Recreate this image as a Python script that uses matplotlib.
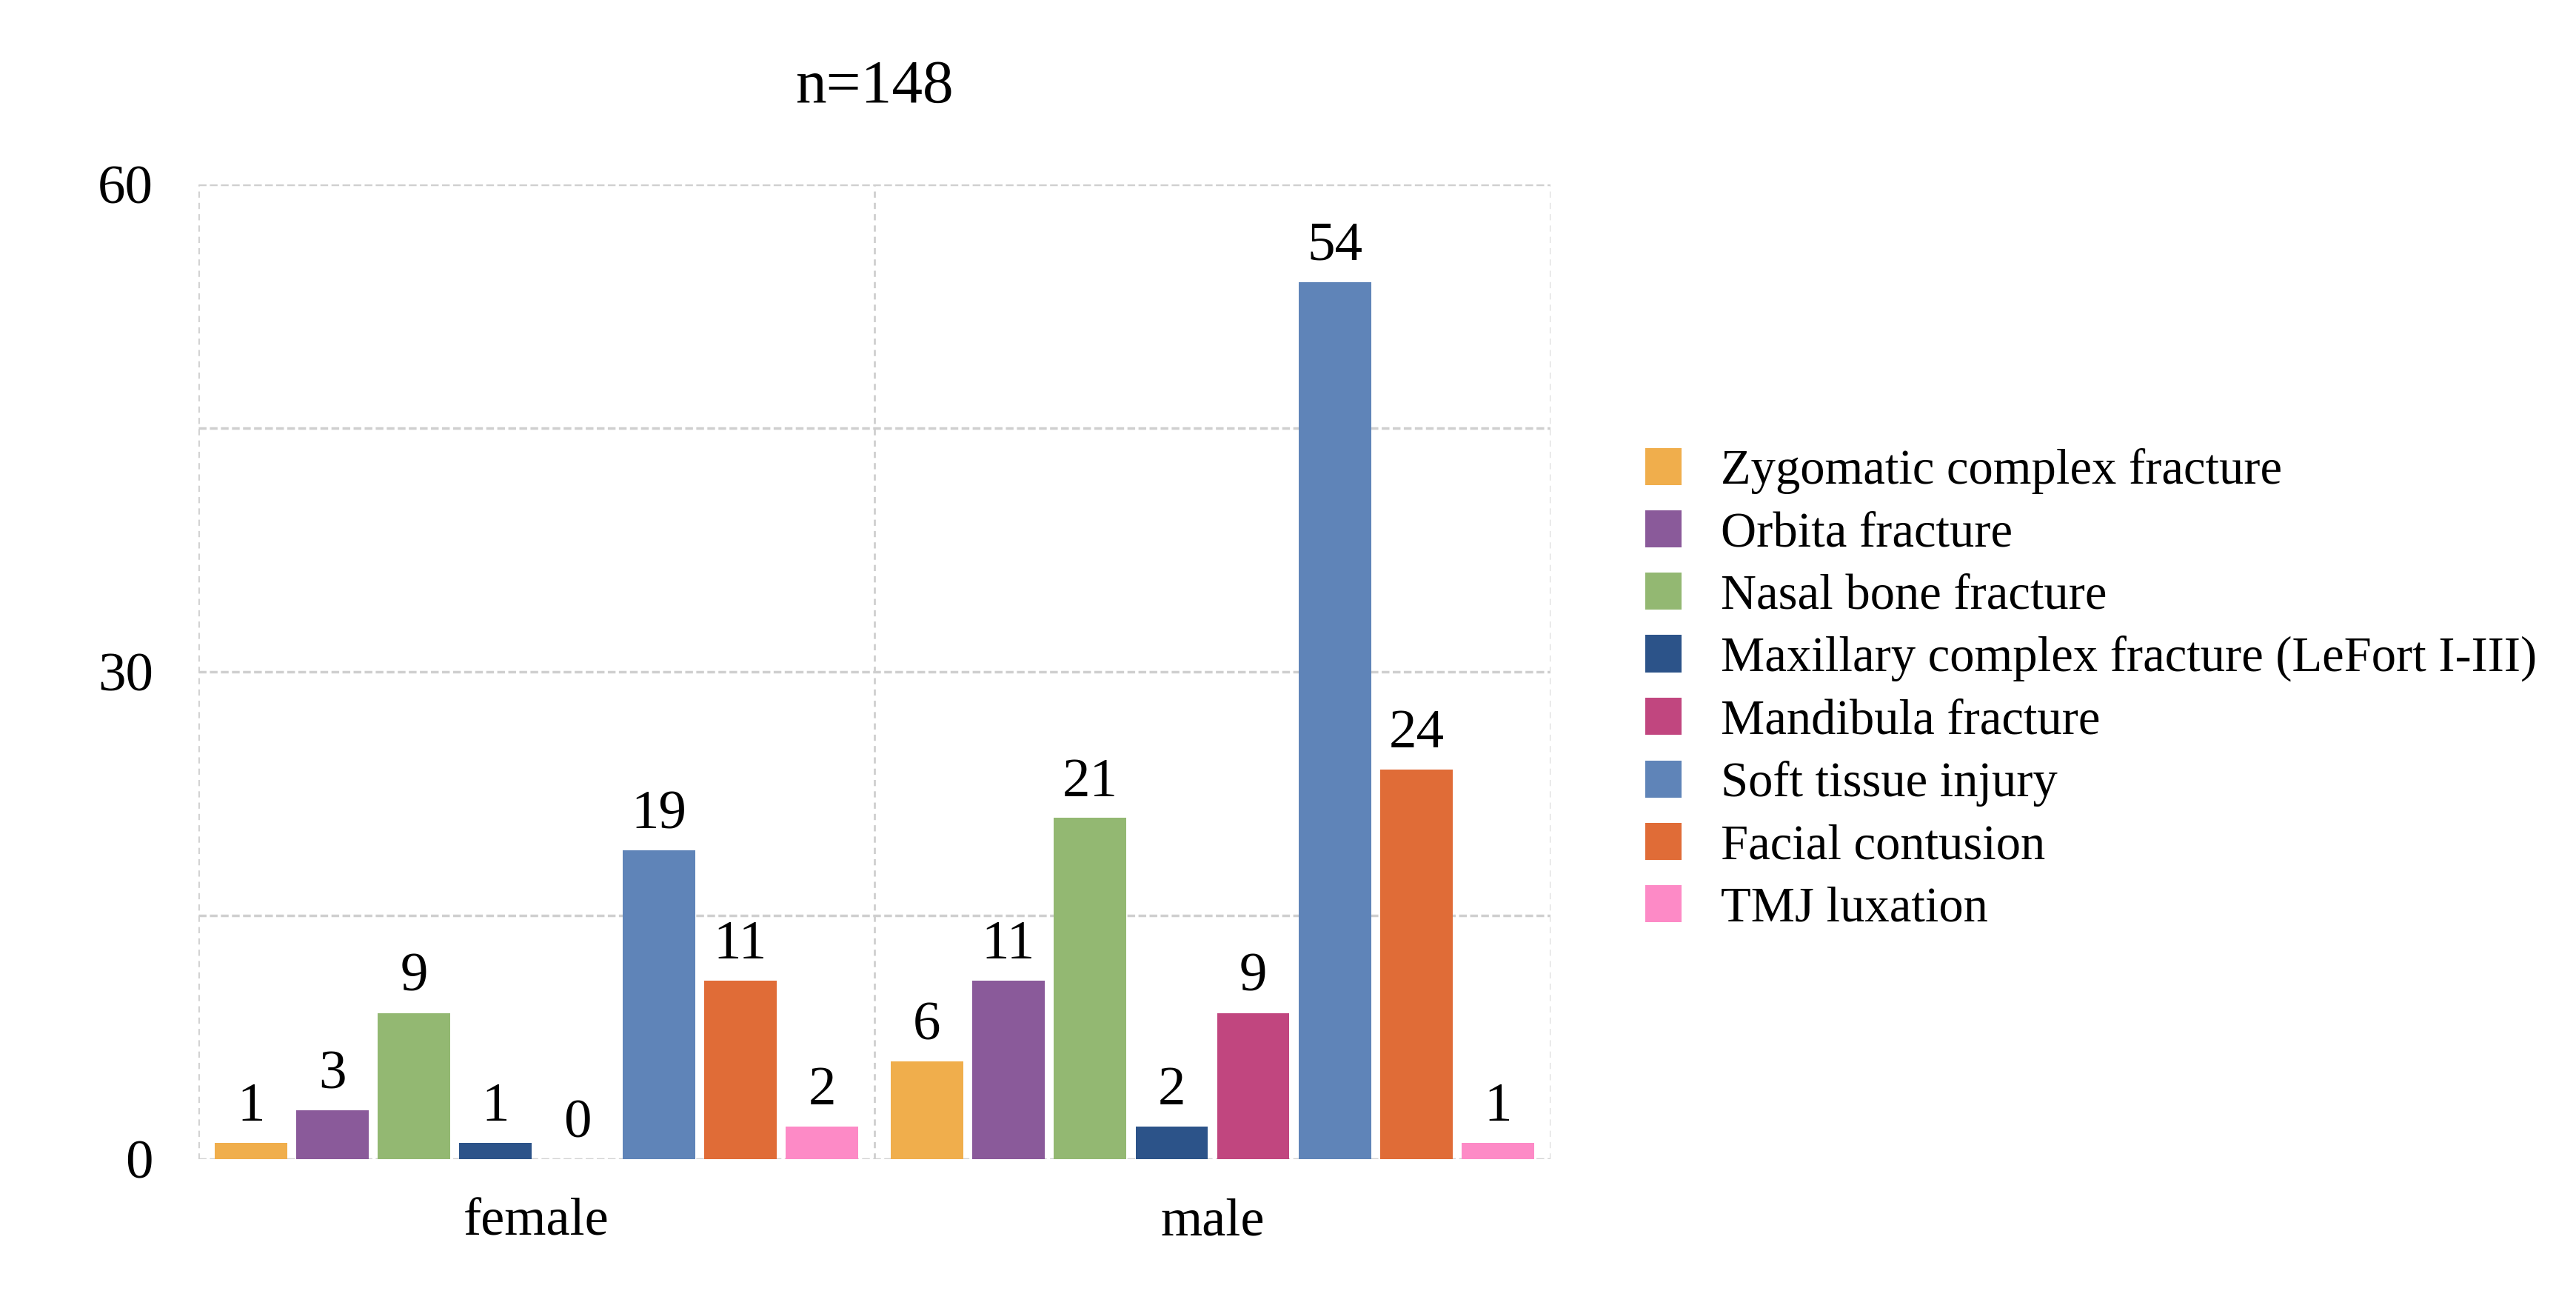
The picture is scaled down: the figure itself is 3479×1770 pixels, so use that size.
import matplotlib
matplotlib.use("Agg")
import matplotlib.pyplot as plt
import numpy as np

plt.rcParams['font.family'] = ['Liberation Serif', 'DejaVu Serif']

groups = ["female", "male"]
categories = ["Zygomatic complex fracture", "Orbita fracture", "Nasal bone fracture",
              "Maxillary complex fracture (LeFort I-III)", "Mandibula fracture",
              "Soft tissue injury", "Facial contusion", "TMJ luxation"]
female_counts = [1, 3, 9, 1, 0, 19, 11, 2]
male_counts = [6, 11, 21, 2, 9, 54, 24, 1]
colors = ["#F0AE4C", "#8A5A9A", "#93B872", "#2C5389", "#C1467F", "#5F84B8", "#E06C37", "#FD8AC6"]
title = "n=148"
yticks = [0, 30, 60]

fig = plt.figure(figsize=(34.79, 17.70), dpi=100)
ax = fig.add_axes([0.0770, 0.1158, 0.5249, 0.7435])

values = np.array([female_counts, male_counts])  # groups x categories
n_cat = len(categories)
step = 0.1207
width = 0.107
x = np.arange(len(groups))
for i, (cat, col) in enumerate(zip(categories, colors)):
    pos = x + (i - (n_cat - 1) / 2) * step
    bars = ax.bar(pos, values[:, i], width=width, color=col, label=cat, zorder=3)
    ax.bar_label(bars, labels=[str(v) for v in values[:, i]], padding=10, fontsize=54)

ax.set_xlim(-0.5, len(groups) - 0.5)
ax.set_ylim(0, 60)
ax.set_xticks(x)
ax.set_xticklabels(groups, fontsize=52)
ax.set_xticks(np.arange(-0.5, len(groups)), minor=True)
ax.set_yticks(yticks)
ax.set_yticklabels([str(t) for t in yticks], fontsize=54)
ax.set_yticks([15, 45], minor=True)
ax.tick_params(axis='both', which='both', length=0)
ax.tick_params(axis='x', which='major', pad=38)
ax.tick_params(axis='y', which='major', pad=44)
grid_kw = dict(color='#cfcfcf', linestyle=(0, (3, 1.3)), linewidth=2.5)
ax.yaxis.grid(True, which='both', **grid_kw)
ax.xaxis.grid(True, which='minor', color='#cfcfcf', linestyle=(0, (3, 2.5)), linewidth=2.0)
ax.xaxis.grid(False, which='major')
ax.set_axisbelow(True)
for s in ax.spines.values():
    s.set_visible(False)

fig.text(0.0770 + 0.5249 / 2, 1 - 118 / 1770, title, ha='center', va='center', fontsize=60)

ax.legend(loc='center left', bbox_to_anchor=(0.6387, 1 - 931 / 1770), bbox_transform=fig.transFigure,
          frameon=False, fontsize=48, handlelength=0.73, handleheight=0.78, handletextpad=0.8,
          labelspacing=0.33, borderpad=0, borderaxespad=0)

fig.savefig("out.png", dpi=100)
